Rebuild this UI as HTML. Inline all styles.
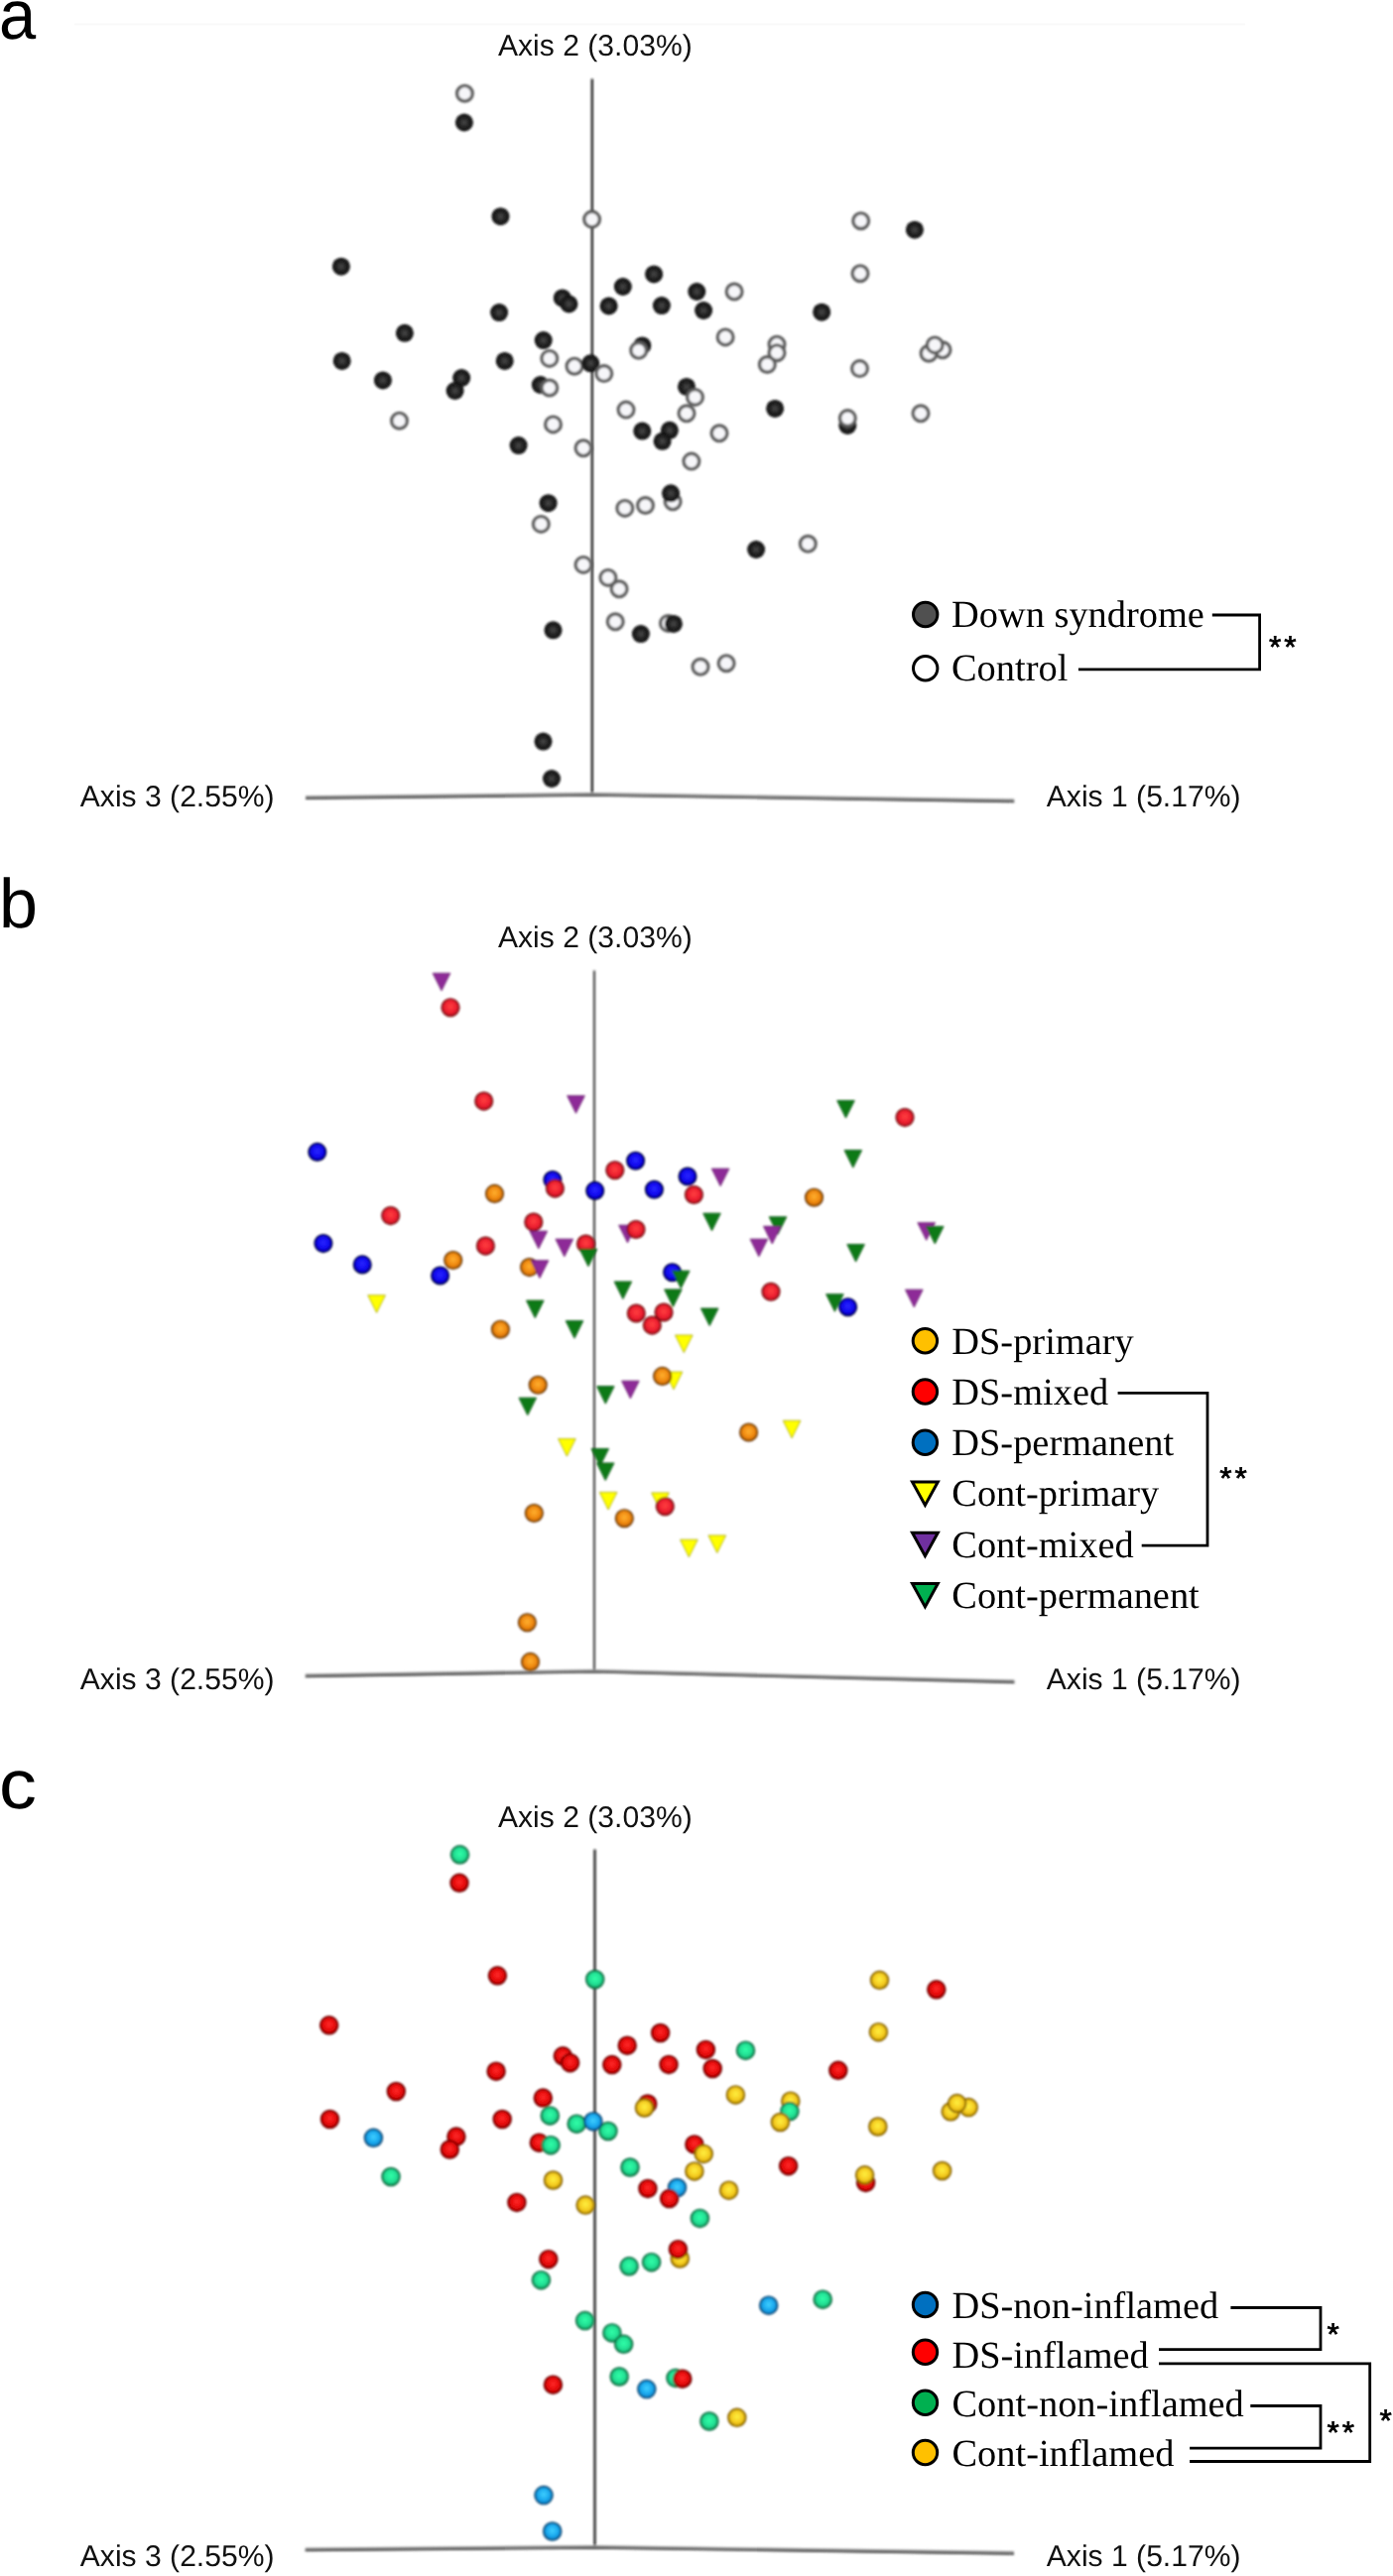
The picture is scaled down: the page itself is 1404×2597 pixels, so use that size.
<!DOCTYPE html>
<html><head><meta charset="utf-8"><style>
html,body{margin:0;padding:0;background:#fff;}
body{width:1404px;height:2597px;position:relative;overflow:hidden;}
svg text{text-rendering:geometricPrecision;}
#wrap{position:absolute;left:0;top:0;will-change:transform;}
</style></head><body><div id="wrap">
<svg width="1404" height="2597" viewBox="0 0 1404 2597" style="position:absolute;left:0;top:0">

<defs>
<radialGradient id="gBlk" cx="50%" cy="50%" r="50%"><stop offset="0" stop-color="#4a4a4a"/><stop offset="0.55" stop-color="#222"/><stop offset="1" stop-color="#111"/></radialGradient>
<radialGradient id="gOr" cx="50%" cy="45%" r="55%"><stop offset="0" stop-color="#ffb030"/><stop offset="0.6" stop-color="#f08a10"/><stop offset="1" stop-color="#c86400"/></radialGradient>
<radialGradient id="gRd" cx="50%" cy="45%" r="55%"><stop offset="0" stop-color="#ff4040"/><stop offset="0.6" stop-color="#ee2030"/><stop offset="1" stop-color="#c01020"/></radialGradient>
<radialGradient id="gBl" cx="50%" cy="45%" r="55%"><stop offset="0" stop-color="#2a28ff"/><stop offset="0.6" stop-color="#1008f0"/><stop offset="1" stop-color="#0000a8"/></radialGradient>
<radialGradient id="cRd" cx="50%" cy="45%" r="55%"><stop offset="0" stop-color="#ff2a2a"/><stop offset="0.6" stop-color="#e80a0a"/><stop offset="1" stop-color="#b00000"/></radialGradient>
<radialGradient id="cGr" cx="50%" cy="45%" r="55%"><stop offset="0" stop-color="#30ffa8"/><stop offset="0.6" stop-color="#22e094"/><stop offset="1" stop-color="#14a868"/></radialGradient>
<radialGradient id="cBl" cx="50%" cy="45%" r="55%"><stop offset="0" stop-color="#40d0ff"/><stop offset="0.6" stop-color="#1aa8ee"/><stop offset="1" stop-color="#0a80c8"/></radialGradient>
<radialGradient id="cYe" cx="50%" cy="45%" r="55%"><stop offset="0" stop-color="#fff040"/><stop offset="0.6" stop-color="#f5cc20"/><stop offset="1" stop-color="#d0a000"/></radialGradient>
<filter id="soft" x="-5%" y="-5%" width="110%" height="110%"><feGaussianBlur stdDeviation="0.8"/></filter>
<filter id="soft2" x="-5%" y="-5%" width="110%" height="110%"><feGaussianBlur stdDeviation="0.9"/></filter>
</defs>

<rect width="1404" height="2597" fill="#fff"/>
<line x1="75" y1="24.5" x2="1255" y2="24.5" stroke="#f9f9f9" stroke-width="2"/>
<text x="0" y="0" transform="translate(-1,38.5) scale(0.955,1)" style="font-family:'Liberation Sans',sans-serif;font-size:70px" fill="#000">a</text>
<g filter="url(#soft)">
<line x1="596.8" y1="79.4" x2="596.8" y2="801.1" stroke="#141414" stroke-width="2.2"/>
<polyline points="308,803.9000000000001 596.8,800.8000000000001 1022.2,807.2" fill="none" stroke="#909090" stroke-width="3.4"/>
<polyline points="308,805.1 596.8,802.0 1022.2,808.4" fill="none" stroke="#404040" stroke-width="1.6"/>
</g>
<text x="502" y="56.3" style="font-family:'Liberation Sans',sans-serif;font-size:30.1px" fill="#111">Axis 2 (3.03%)</text>
<text x="80.8" y="813.2" style="font-family:'Liberation Sans',sans-serif;font-size:30.1px" fill="#111">Axis 3 (2.55%)</text>
<text x="1054.8" y="813.2" style="font-family:'Liberation Sans',sans-serif;font-size:30.1px" fill="#111">Axis 1 (5.17%)</text>
<g filter="url(#soft)">
<circle cx="468.4" cy="94.2" r="7.8" fill="#f6f6f9" stroke="#5e5e5e" stroke-width="3.4"/>
<circle cx="467.9" cy="123.5" r="9.0" fill="url(#gBlk)"/>
<circle cx="504.5" cy="218.2" r="9.0" fill="url(#gBlk)"/>
<circle cx="596.6" cy="221.1" r="7.8" fill="#f6f6f9" stroke="#5e5e5e" stroke-width="3.4"/>
<circle cx="343.9" cy="268.7" r="9.0" fill="url(#gBlk)"/>
<circle cx="627.8" cy="289.0" r="9.0" fill="url(#gBlk)"/>
<circle cx="566.8" cy="300.4" r="9.0" fill="url(#gBlk)"/>
<circle cx="573.4" cy="306.5" r="9.0" fill="url(#gBlk)"/>
<circle cx="613.6" cy="308.5" r="9.0" fill="url(#gBlk)"/>
<circle cx="503.1" cy="315.1" r="9.0" fill="url(#gBlk)"/>
<circle cx="407.9" cy="335.8" r="9.0" fill="url(#gBlk)"/>
<circle cx="547.7" cy="343.1" r="9.0" fill="url(#gBlk)"/>
<circle cx="553.8" cy="361.4" r="7.8" fill="#f6f6f9" stroke="#5e5e5e" stroke-width="3.4"/>
<circle cx="344.7" cy="363.9" r="9.0" fill="url(#gBlk)"/>
<circle cx="508.7" cy="363.9" r="9.0" fill="url(#gBlk)"/>
<circle cx="579.0" cy="369.2" r="7.8" fill="#f6f6f9" stroke="#5e5e5e" stroke-width="3.4"/>
<circle cx="595.3" cy="366.3" r="9.0" fill="url(#gBlk)"/>
<circle cx="608.8" cy="376.6" r="7.8" fill="#f6f6f9" stroke="#5e5e5e" stroke-width="3.4"/>
<circle cx="385.9" cy="383.4" r="9.0" fill="url(#gBlk)"/>
<circle cx="465.2" cy="381.0" r="9.0" fill="url(#gBlk)"/>
<circle cx="458.6" cy="394.0" r="9.0" fill="url(#gBlk)"/>
<circle cx="544.8" cy="388.0" r="9.0" fill="url(#gBlk)"/>
<circle cx="553.8" cy="391.0" r="7.8" fill="#f6f6f9" stroke="#5e5e5e" stroke-width="3.4"/>
<circle cx="867.7" cy="222.7" r="7.8" fill="#f6f6f9" stroke="#5e5e5e" stroke-width="3.4"/>
<circle cx="921.9" cy="231.7" r="9.0" fill="url(#gBlk)"/>
<circle cx="867.0" cy="275.7" r="7.8" fill="#f6f6f9" stroke="#5e5e5e" stroke-width="3.4"/>
<circle cx="659.1" cy="276.4" r="9.0" fill="url(#gBlk)"/>
<circle cx="702.3" cy="294.0" r="9.0" fill="url(#gBlk)"/>
<circle cx="740.1" cy="294.0" r="7.8" fill="#f6f6f9" stroke="#5e5e5e" stroke-width="3.4"/>
<circle cx="666.9" cy="308.1" r="9.0" fill="url(#gBlk)"/>
<circle cx="709.1" cy="313.0" r="9.0" fill="url(#gBlk)"/>
<circle cx="828.2" cy="314.7" r="9.0" fill="url(#gBlk)"/>
<circle cx="731.1" cy="339.9" r="7.8" fill="#f6f6f9" stroke="#5e5e5e" stroke-width="3.4"/>
<circle cx="647.3" cy="348.4" r="9.0" fill="url(#gBlk)"/>
<circle cx="643.7" cy="353.3" r="7.8" fill="#f6f6f9" stroke="#5e5e5e" stroke-width="3.4"/>
<circle cx="783.0" cy="347.2" r="7.8" fill="#f6f6f9" stroke="#5e5e5e" stroke-width="3.4"/>
<circle cx="783.0" cy="355.7" r="7.8" fill="#f6f6f9" stroke="#5e5e5e" stroke-width="3.4"/>
<circle cx="773.3" cy="367.5" r="7.8" fill="#f6f6f9" stroke="#5e5e5e" stroke-width="3.4"/>
<circle cx="950.0" cy="352.8" r="7.8" fill="#f6f6f9" stroke="#5e5e5e" stroke-width="3.4"/>
<circle cx="936.1" cy="356.2" r="7.8" fill="#f6f6f9" stroke="#5e5e5e" stroke-width="3.4"/>
<circle cx="942.2" cy="347.9" r="7.8" fill="#f6f6f9" stroke="#5e5e5e" stroke-width="3.4"/>
<circle cx="866.5" cy="371.6" r="7.8" fill="#f6f6f9" stroke="#5e5e5e" stroke-width="3.4"/>
<circle cx="692.0" cy="389.9" r="9.0" fill="url(#gBlk)"/>
<circle cx="700.5" cy="400.4" r="7.8" fill="#f6f6f9" stroke="#5e5e5e" stroke-width="3.4"/>
<circle cx="631.0" cy="413.1" r="7.8" fill="#f6f6f9" stroke="#5e5e5e" stroke-width="3.4"/>
<circle cx="692.0" cy="416.8" r="7.8" fill="#f6f6f9" stroke="#5e5e5e" stroke-width="3.4"/>
<circle cx="781.1" cy="411.9" r="9.0" fill="url(#gBlk)"/>
<circle cx="854.3" cy="429.0" r="9.0" fill="url(#gBlk)"/>
<circle cx="854.3" cy="421.6" r="7.8" fill="#f6f6f9" stroke="#5e5e5e" stroke-width="3.4"/>
<circle cx="928.0" cy="416.8" r="7.8" fill="#f6f6f9" stroke="#5e5e5e" stroke-width="3.4"/>
<circle cx="647.3" cy="434.6" r="9.0" fill="url(#gBlk)"/>
<circle cx="674.9" cy="433.8" r="9.0" fill="url(#gBlk)"/>
<circle cx="667.6" cy="444.8" r="9.0" fill="url(#gBlk)"/>
<circle cx="725.0" cy="436.8" r="7.8" fill="#f6f6f9" stroke="#5e5e5e" stroke-width="3.4"/>
<circle cx="696.9" cy="465.1" r="7.8" fill="#f6f6f9" stroke="#5e5e5e" stroke-width="3.4"/>
<circle cx="678.1" cy="505.8" r="7.8" fill="#f6f6f9" stroke="#5e5e5e" stroke-width="3.4"/>
<circle cx="676.1" cy="497.3" r="9.0" fill="url(#gBlk)"/>
<circle cx="650.5" cy="509.5" r="7.8" fill="#f6f6f9" stroke="#5e5e5e" stroke-width="3.4"/>
<circle cx="629.8" cy="512.4" r="7.8" fill="#f6f6f9" stroke="#5e5e5e" stroke-width="3.4"/>
<circle cx="402.5" cy="424.2" r="7.8" fill="#f6f6f9" stroke="#5e5e5e" stroke-width="3.4"/>
<circle cx="557.5" cy="427.9" r="7.8" fill="#f6f6f9" stroke="#5e5e5e" stroke-width="3.4"/>
<circle cx="522.6" cy="449.1" r="9.0" fill="url(#gBlk)"/>
<circle cx="588.0" cy="451.8" r="7.8" fill="#f6f6f9" stroke="#5e5e5e" stroke-width="3.4"/>
<circle cx="552.6" cy="507.2" r="9.0" fill="url(#gBlk)"/>
<circle cx="545.3" cy="528.4" r="7.8" fill="#f6f6f9" stroke="#5e5e5e" stroke-width="3.4"/>
<circle cx="588.0" cy="569.4" r="7.8" fill="#f6f6f9" stroke="#5e5e5e" stroke-width="3.4"/>
<circle cx="612.9" cy="582.4" r="7.8" fill="#f6f6f9" stroke="#5e5e5e" stroke-width="3.4"/>
<circle cx="624.1" cy="593.8" r="7.8" fill="#f6f6f9" stroke="#5e5e5e" stroke-width="3.4"/>
<circle cx="620.2" cy="626.8" r="7.8" fill="#f6f6f9" stroke="#5e5e5e" stroke-width="3.4"/>
<circle cx="557.5" cy="635.3" r="9.0" fill="url(#gBlk)"/>
<circle cx="762.1" cy="554.0" r="9.0" fill="url(#gBlk)"/>
<circle cx="814.3" cy="548.3" r="7.8" fill="#f6f6f9" stroke="#5e5e5e" stroke-width="3.4"/>
<circle cx="645.9" cy="639.1" r="9.0" fill="url(#gBlk)"/>
<circle cx="673.5" cy="628.4" r="7.8" fill="#f6f6f9" stroke="#5e5e5e" stroke-width="3.4"/>
<circle cx="678.9" cy="628.9" r="9.0" fill="url(#gBlk)"/>
<circle cx="706.0" cy="672.3" r="7.8" fill="#f6f6f9" stroke="#5e5e5e" stroke-width="3.4"/>
<circle cx="732.1" cy="668.7" r="7.8" fill="#f6f6f9" stroke="#5e5e5e" stroke-width="3.4"/>
<circle cx="547.5" cy="747.6" r="9.0" fill="url(#gBlk)"/>
<circle cx="556.0" cy="785.0" r="9.0" fill="url(#gBlk)"/>
</g>
<circle cx="932.7" cy="619.5" r="12.2" fill="#505050" stroke="#000" stroke-width="3"/>
<circle cx="932.7" cy="673.8" r="12.2" fill="#fff" stroke="#000" stroke-width="3"/>
<text x="959" y="631.5" style="font-family:'Liberation Serif',serif;font-size:38.4px" fill="#000">Down syndrome</text>
<text x="959" y="685.8" style="font-family:'Liberation Serif',serif;font-size:38.4px" fill="#000">Control</text>
<polyline points="1086.9,674.8 1269.6,674.8 1269.6,620 1221.8,620" fill="none" stroke="#000" stroke-width="2.8"/>
<text x="1279" y="663" style="font-family:'Liberation Sans',sans-serif;font-size:31.5px;letter-spacing:3.0px" fill="#000" stroke="#000" stroke-width="0.7">**</text>
<text x="0" y="0" transform="translate(-1,934.6) scale(1.0,1)" style="font-family:'Liberation Sans',sans-serif;font-size:70px" fill="#000">b</text>
<g filter="url(#soft)">
<line x1="599" y1="978.4" x2="599" y2="1684.9" stroke="#484848" stroke-width="2.2"/>
<polyline points="307.8,1689.2 599,1684.6000000000001 1022.4,1695.2" fill="none" stroke="#909090" stroke-width="3.4"/>
<polyline points="307.8,1690.4 599,1685.8000000000002 1022.4,1696.4" fill="none" stroke="#404040" stroke-width="1.6"/>
</g>
<text x="502" y="955.3" style="font-family:'Liberation Sans',sans-serif;font-size:30.1px" fill="#111">Axis 2 (3.03%)</text>
<text x="80.8" y="1702.6" style="font-family:'Liberation Sans',sans-serif;font-size:30.1px" fill="#111">Axis 3 (2.55%)</text>
<text x="1054.8" y="1702.6" style="font-family:'Liberation Sans',sans-serif;font-size:30.1px" fill="#111">Axis 1 (5.17%)</text>
<g filter="url(#soft)">
<polygon points="436.2,981.2 453.8,981.2 445.0,998.8" fill="#8e2a98" stroke="#5a1060" stroke-width="0.8"/>
<circle cx="454.0" cy="1015.7" r="8.7" fill="url(#gRd)" stroke="#7a0a10" stroke-width="1.7"/>
<circle cx="487.7" cy="1110.1" r="8.7" fill="url(#gRd)" stroke="#7a0a10" stroke-width="1.7"/>
<polygon points="571.7,1104.7 589.3,1104.7 580.5,1122.3" fill="#8e2a98" stroke="#5a1060" stroke-width="0.8"/>
<circle cx="319.8" cy="1161.4" r="8.7" fill="url(#gBl)" stroke="#000040" stroke-width="1.7"/>
<circle cx="619.8" cy="1179.8" r="8.7" fill="url(#gRd)" stroke="#7a0a10" stroke-width="1.7"/>
<circle cx="556.9" cy="1189.5" r="8.7" fill="url(#gBl)" stroke="#000040" stroke-width="1.7"/>
<circle cx="559.4" cy="1198.1" r="8.7" fill="url(#gRd)" stroke="#7a0a10" stroke-width="1.7"/>
<circle cx="599.7" cy="1200.4" r="8.7" fill="url(#gBl)" stroke="#000040" stroke-width="1.7"/>
<circle cx="498.5" cy="1203.4" r="8.7" fill="url(#gOr)" stroke="#6a3400" stroke-width="1.7"/>
<circle cx="393.7" cy="1225.6" r="8.7" fill="url(#gRd)" stroke="#7a0a10" stroke-width="1.7"/>
<circle cx="537.8" cy="1232.1" r="8.7" fill="url(#gRd)" stroke="#7a0a10" stroke-width="1.7"/>
<polygon points="534.0,1241.2 551.6,1241.2 542.8,1258.8" fill="#8e2a98" stroke="#5a1060" stroke-width="0.8"/>
<polygon points="560.0,1249.2 577.6,1249.2 568.8,1266.8" fill="#8e2a98" stroke="#5a1060" stroke-width="0.8"/>
<circle cx="590.5" cy="1254.1" r="8.7" fill="url(#gRd)" stroke="#7a0a10" stroke-width="1.7"/>
<polygon points="584.2,1259.2 601.8,1259.2 593.0,1276.8" fill="#0a7a18" stroke="#054a0a" stroke-width="0.8"/>
<circle cx="325.9" cy="1253.6" r="8.7" fill="url(#gBl)" stroke="#000040" stroke-width="1.7"/>
<circle cx="489.4" cy="1256.1" r="8.7" fill="url(#gRd)" stroke="#7a0a10" stroke-width="1.7"/>
<circle cx="365.2" cy="1274.9" r="8.7" fill="url(#gBl)" stroke="#000040" stroke-width="1.7"/>
<circle cx="456.7" cy="1270.5" r="8.7" fill="url(#gOr)" stroke="#6a3400" stroke-width="1.7"/>
<circle cx="443.6" cy="1286.0" r="8.7" fill="url(#gBl)" stroke="#000040" stroke-width="1.7"/>
<circle cx="533.6" cy="1277.6" r="8.7" fill="url(#gOr)" stroke="#6a3400" stroke-width="1.7"/>
<polygon points="535.2,1270.8 552.8,1270.8 544.0,1288.4" fill="#8e2a98" stroke="#5a1060" stroke-width="0.8"/>
<polygon points="623.7,1235.2 641.3,1235.2 632.5,1252.8" fill="#8e2a98" stroke="#5a1060" stroke-width="0.8"/>
<circle cx="641.0" cy="1239.5" r="8.7" fill="url(#gRd)" stroke="#7a0a10" stroke-width="1.7"/>
<polygon points="843.7,1109.5 861.3,1109.5 852.5,1127.1" fill="#0a7a18" stroke="#054a0a" stroke-width="0.8"/>
<circle cx="912.0" cy="1126.6" r="8.7" fill="url(#gRd)" stroke="#7a0a10" stroke-width="1.7"/>
<polygon points="851.0,1159.6 868.6,1159.6 859.8,1177.2" fill="#0a7a18" stroke="#054a0a" stroke-width="0.8"/>
<circle cx="640.6" cy="1170.3" r="8.7" fill="url(#gBl)" stroke="#000040" stroke-width="1.7"/>
<circle cx="693.0" cy="1186.0" r="8.7" fill="url(#gBl)" stroke="#000040" stroke-width="1.7"/>
<polygon points="717.3,1178.2 734.9,1178.2 726.1,1195.8" fill="#8e2a98" stroke="#5a1060" stroke-width="0.8"/>
<circle cx="659.4" cy="1199.3" r="8.7" fill="url(#gBl)" stroke="#000040" stroke-width="1.7"/>
<circle cx="699.4" cy="1204.5" r="8.7" fill="url(#gRd)" stroke="#7a0a10" stroke-width="1.7"/>
<circle cx="820.5" cy="1207.2" r="8.7" fill="url(#gOr)" stroke="#6a3400" stroke-width="1.7"/>
<polygon points="708.7,1223.2 726.3,1223.2 717.5,1240.8" fill="#0a7a18" stroke="#054a0a" stroke-width="0.8"/>
<polygon points="775.2,1226.8 792.8,1226.8 784.0,1244.4" fill="#0a7a18" stroke="#054a0a" stroke-width="0.8"/>
<polygon points="769.5,1236.3 787.1,1236.3 778.3,1253.9" fill="#8e2a98" stroke="#5a1060" stroke-width="0.8"/>
<polygon points="756.1,1249.2 773.7,1249.2 764.9,1266.8" fill="#8e2a98" stroke="#5a1060" stroke-width="0.8"/>
<polygon points="924.9,1232.7 942.5,1232.7 933.7,1250.3" fill="#8e2a98" stroke="#5a1060" stroke-width="0.8"/>
<polygon points="933.5,1236.4 951.1,1236.4 942.3,1254.0" fill="#0a7a18" stroke="#054a0a" stroke-width="0.8"/>
<polygon points="853.8,1254.5 871.4,1254.5 862.6,1272.1" fill="#0a7a18" stroke="#054a0a" stroke-width="0.8"/>
<circle cx="677.6" cy="1282.8" r="8.7" fill="url(#gBl)" stroke="#000040" stroke-width="1.7"/>
<polygon points="677.5,1281.2 695.1,1281.2 686.3,1298.8" fill="#0a7a18" stroke="#054a0a" stroke-width="0.8"/>
<polygon points="619.1,1292.0 636.7,1292.0 627.9,1309.6" fill="#0a7a18" stroke="#054a0a" stroke-width="0.8"/>
<polygon points="669.6,1299.9 687.2,1299.9 678.4,1317.5" fill="#0a7a18" stroke="#054a0a" stroke-width="0.8"/>
<circle cx="777.0" cy="1302.3" r="8.7" fill="url(#gRd)" stroke="#7a0a10" stroke-width="1.7"/>
<polygon points="832.6,1304.7 850.2,1304.7 841.4,1322.3" fill="#0a7a18" stroke="#054a0a" stroke-width="0.8"/>
<circle cx="854.6" cy="1317.7" r="8.7" fill="url(#gBl)" stroke="#000040" stroke-width="1.7"/>
<polygon points="912.5,1300.2 930.1,1300.2 921.3,1317.8" fill="#8e2a98" stroke="#5a1060" stroke-width="0.8"/>
<circle cx="641.3" cy="1324.0" r="8.7" fill="url(#gRd)" stroke="#7a0a10" stroke-width="1.7"/>
<circle cx="669.0" cy="1323.0" r="8.7" fill="url(#gRd)" stroke="#7a0a10" stroke-width="1.7"/>
<circle cx="657.3" cy="1336.1" r="8.7" fill="url(#gRd)" stroke="#7a0a10" stroke-width="1.7"/>
<polygon points="706.4,1319.0 724.0,1319.0 715.2,1336.6" fill="#0a7a18" stroke="#054a0a" stroke-width="0.8"/>
<polygon points="680.5,1346.0 698.1,1346.0 689.3,1363.6" fill="#ffff00" stroke="#a0a000" stroke-width="0.8"/>
<polygon points="670.2,1383.1 687.8,1383.1 679.0,1400.7" fill="#ffff00" stroke="#a0a000" stroke-width="0.8"/>
<circle cx="667.6" cy="1387.4" r="8.7" fill="url(#gOr)" stroke="#6a3400" stroke-width="1.7"/>
<polygon points="626.6,1392.2 644.2,1392.2 635.4,1409.8" fill="#8e2a98" stroke="#5a1060" stroke-width="0.8"/>
<polygon points="601.5,1397.6 619.1,1397.6 610.3,1415.2" fill="#0a7a18" stroke="#054a0a" stroke-width="0.8"/>
<circle cx="754.6" cy="1444.0" r="8.7" fill="url(#gOr)" stroke="#6a3400" stroke-width="1.7"/>
<polygon points="789.3,1432.2 806.9,1432.2 798.1,1449.8" fill="#ffff00" stroke="#a0a000" stroke-width="0.8"/>
<polygon points="370.8,1305.8 388.4,1305.8 379.6,1323.4" fill="#ffff00" stroke="#a0a000" stroke-width="0.8"/>
<polygon points="530.5,1311.1 548.1,1311.1 539.3,1328.7" fill="#0a7a18" stroke="#054a0a" stroke-width="0.8"/>
<polygon points="570.2,1331.6 587.8,1331.6 579.0,1349.2" fill="#0a7a18" stroke="#054a0a" stroke-width="0.8"/>
<circle cx="504.4" cy="1340.2" r="8.7" fill="url(#gOr)" stroke="#6a3400" stroke-width="1.7"/>
<circle cx="542.2" cy="1396.3" r="8.7" fill="url(#gOr)" stroke="#6a3400" stroke-width="1.7"/>
<polygon points="523.0,1409.2 540.6,1409.2 531.8,1426.8" fill="#0a7a18" stroke="#054a0a" stroke-width="0.8"/>
<polygon points="562.6,1450.5 580.2,1450.5 571.4,1468.1" fill="#ffff00" stroke="#a0a000" stroke-width="0.8"/>
<polygon points="596.0,1460.5 613.6,1460.5 604.8,1478.1" fill="#0a7a18" stroke="#054a0a" stroke-width="0.8"/>
<polygon points="601.4,1474.9 619.0,1474.9 610.2,1492.5" fill="#0a7a18" stroke="#054a0a" stroke-width="0.8"/>
<polygon points="604.3,1504.4 621.9,1504.4 613.1,1522.0" fill="#ffff00" stroke="#a0a000" stroke-width="0.8"/>
<circle cx="538.3" cy="1525.5" r="8.7" fill="url(#gOr)" stroke="#6a3400" stroke-width="1.7"/>
<circle cx="629.3" cy="1530.7" r="8.7" fill="url(#gOr)" stroke="#6a3400" stroke-width="1.7"/>
<polygon points="656.7,1504.9 674.3,1504.9 665.5,1522.5" fill="#ffff00" stroke="#a0a000" stroke-width="0.8"/>
<circle cx="670.3" cy="1518.7" r="8.7" fill="url(#gRd)" stroke="#7a0a10" stroke-width="1.7"/>
<polygon points="685.6,1552.2 703.2,1552.2 694.4,1569.8" fill="#ffff00" stroke="#a0a000" stroke-width="0.8"/>
<polygon points="714.0,1547.9 731.6,1547.9 722.8,1565.5" fill="#ffff00" stroke="#a0a000" stroke-width="0.8"/>
<circle cx="531.4" cy="1635.8" r="8.7" fill="url(#gOr)" stroke="#6a3400" stroke-width="1.7"/>
<circle cx="534.5" cy="1675.4" r="8.7" fill="url(#gOr)" stroke="#6a3400" stroke-width="1.7"/>
</g>
<circle cx="932.4" cy="1351.7" r="12.2" fill="#ffc000" stroke="#000" stroke-width="3"/>
<text x="959.3" y="1364.6" style="font-family:'Liberation Serif',serif;font-size:38.4px" fill="#000">DS-primary</text>
<circle cx="932.4" cy="1403.0" r="12.2" fill="#ff0000" stroke="#000" stroke-width="3"/>
<text x="959.3" y="1415.9" style="font-family:'Liberation Serif',serif;font-size:38.4px" fill="#000">DS-mixed</text>
<circle cx="932.4" cy="1454.2" r="12.2" fill="#0070c0" stroke="#000" stroke-width="3"/>
<text x="959.3" y="1467.1" style="font-family:'Liberation Serif',serif;font-size:38.4px" fill="#000">DS-permanent</text>
<polygon points="919.5,1494.0 945.3,1494.0 932.4,1517.5" fill="#ffff00" stroke="#000" stroke-width="3" stroke-linejoin="miter"/>
<text x="959.3" y="1518.4" style="font-family:'Liberation Serif',serif;font-size:38.4px" fill="#000">Cont-primary</text>
<polygon points="919.5,1545.2 945.3,1545.2 932.4,1568.7" fill="#7030a0" stroke="#000" stroke-width="3" stroke-linejoin="miter"/>
<text x="959.3" y="1569.6" style="font-family:'Liberation Serif',serif;font-size:38.4px" fill="#000">Cont-mixed</text>
<polygon points="919.5,1596.5 945.3,1596.5 932.4,1620.0" fill="#00b050" stroke="#000" stroke-width="3" stroke-linejoin="miter"/>
<text x="959.3" y="1620.9" style="font-family:'Liberation Serif',serif;font-size:38.4px" fill="#000">Cont-permanent</text>
<polyline points="1126.6,1404.4 1217,1404.4 1217,1558.2 1150.7,1558.2" fill="none" stroke="#000" stroke-width="2.8"/>
<text x="1229.3" y="1500.7" style="font-family:'Liberation Sans',sans-serif;font-size:31.5px;letter-spacing:3.0px" fill="#000" stroke="#000" stroke-width="0.7">**</text>
<text x="0" y="0" transform="translate(-1,1823) scale(1.08,1)" style="font-family:'Liberation Sans',sans-serif;font-size:70px" fill="#000">c</text>
<g filter="url(#soft)">
<line x1="599.5" y1="1864.6" x2="599.5" y2="2568" stroke="#141414" stroke-width="2.2"/>
<polyline points="307.7,2570.2 599.5,2567.7 1022,2573.7" fill="none" stroke="#909090" stroke-width="3.4"/>
<polyline points="307.7,2571.4 599.5,2568.9 1022,2574.9" fill="none" stroke="#404040" stroke-width="1.6"/>
</g>
<text x="502" y="1841.7" style="font-family:'Liberation Sans',sans-serif;font-size:30.1px" fill="#111">Axis 2 (3.03%)</text>
<text x="80.8" y="2587.3" style="font-family:'Liberation Sans',sans-serif;font-size:30.1px" fill="#111">Axis 3 (2.55%)</text>
<text x="1054.8" y="2587.3" style="font-family:'Liberation Sans',sans-serif;font-size:30.1px" fill="#111">Axis 1 (5.17%)</text>
<g filter="url(#soft)">
<circle cx="463.5" cy="1869.8" r="8.8" fill="url(#cGr)" stroke="#0a7040" stroke-width="1.9"/>
<circle cx="463.0" cy="1898.3" r="8.8" fill="url(#cRd)" stroke="#780000" stroke-width="1.9"/>
<circle cx="501.4" cy="1991.8" r="8.8" fill="url(#cRd)" stroke="#780000" stroke-width="1.9"/>
<circle cx="599.7" cy="1995.5" r="8.8" fill="url(#cGr)" stroke="#0a7040" stroke-width="1.9"/>
<circle cx="331.7" cy="2041.8" r="8.8" fill="url(#cRd)" stroke="#780000" stroke-width="1.9"/>
<circle cx="632.2" cy="2062.2" r="8.8" fill="url(#cRd)" stroke="#780000" stroke-width="1.9"/>
<circle cx="567.3" cy="2072.8" r="8.8" fill="url(#cRd)" stroke="#780000" stroke-width="1.9"/>
<circle cx="574.6" cy="2079.7" r="8.8" fill="url(#cRd)" stroke="#780000" stroke-width="1.9"/>
<circle cx="616.8" cy="2081.6" r="8.8" fill="url(#cRd)" stroke="#780000" stroke-width="1.9"/>
<circle cx="500.1" cy="2088.2" r="8.8" fill="url(#cRd)" stroke="#780000" stroke-width="1.9"/>
<circle cx="399.3" cy="2108.5" r="8.8" fill="url(#cRd)" stroke="#780000" stroke-width="1.9"/>
<circle cx="547.3" cy="2115.1" r="8.8" fill="url(#cRd)" stroke="#780000" stroke-width="1.9"/>
<circle cx="332.5" cy="2136.5" r="8.8" fill="url(#cRd)" stroke="#780000" stroke-width="1.9"/>
<circle cx="506.2" cy="2136.5" r="8.8" fill="url(#cRd)" stroke="#780000" stroke-width="1.9"/>
<circle cx="554.3" cy="2132.9" r="8.8" fill="url(#cGr)" stroke="#0a7040" stroke-width="1.9"/>
<circle cx="581.2" cy="2141.2" r="8.8" fill="url(#cGr)" stroke="#0a7040" stroke-width="1.9"/>
<circle cx="612.9" cy="2148.5" r="8.8" fill="url(#cGr)" stroke="#0a7040" stroke-width="1.9"/>
<circle cx="597.8" cy="2138.7" r="8.8" fill="url(#cBl)" stroke="#0a4a7a" stroke-width="1.9"/>
<circle cx="376.4" cy="2155.3" r="8.8" fill="url(#cBl)" stroke="#0a4a7a" stroke-width="1.9"/>
<circle cx="459.9" cy="2154.1" r="8.8" fill="url(#cRd)" stroke="#780000" stroke-width="1.9"/>
<circle cx="453.3" cy="2167.0" r="8.8" fill="url(#cRd)" stroke="#780000" stroke-width="1.9"/>
<circle cx="543.3" cy="2160.2" r="8.8" fill="url(#cRd)" stroke="#780000" stroke-width="1.9"/>
<circle cx="555.1" cy="2162.7" r="8.8" fill="url(#cGr)" stroke="#0a7040" stroke-width="1.9"/>
<circle cx="394.0" cy="2194.5" r="8.8" fill="url(#cGr)" stroke="#0a7040" stroke-width="1.9"/>
<circle cx="557.5" cy="2198.0" r="8.8" fill="url(#cYe)" stroke="#8a6400" stroke-width="1.9"/>
<circle cx="635.0" cy="2185.0" r="8.8" fill="url(#cGr)" stroke="#0a7040" stroke-width="1.9"/>
<circle cx="886.5" cy="1996.3" r="8.8" fill="url(#cYe)" stroke="#8a6400" stroke-width="1.9"/>
<circle cx="943.8" cy="2005.8" r="8.8" fill="url(#cRd)" stroke="#780000" stroke-width="1.9"/>
<circle cx="885.4" cy="2048.7" r="8.8" fill="url(#cYe)" stroke="#8a6400" stroke-width="1.9"/>
<circle cx="665.6" cy="2049.5" r="8.8" fill="url(#cRd)" stroke="#780000" stroke-width="1.9"/>
<circle cx="711.4" cy="2066.4" r="8.8" fill="url(#cRd)" stroke="#780000" stroke-width="1.9"/>
<circle cx="751.5" cy="2067.2" r="8.8" fill="url(#cGr)" stroke="#0a7040" stroke-width="1.9"/>
<circle cx="674.0" cy="2081.4" r="8.8" fill="url(#cRd)" stroke="#780000" stroke-width="1.9"/>
<circle cx="718.2" cy="2085.5" r="8.8" fill="url(#cRd)" stroke="#780000" stroke-width="1.9"/>
<circle cx="844.8" cy="2087.3" r="8.8" fill="url(#cRd)" stroke="#780000" stroke-width="1.9"/>
<circle cx="741.4" cy="2111.9" r="8.8" fill="url(#cYe)" stroke="#8a6400" stroke-width="1.9"/>
<circle cx="652.7" cy="2121.0" r="8.8" fill="url(#cRd)" stroke="#780000" stroke-width="1.9"/>
<circle cx="649.5" cy="2125.0" r="8.8" fill="url(#cYe)" stroke="#8a6400" stroke-width="1.9"/>
<circle cx="796.8" cy="2118.2" r="8.8" fill="url(#cYe)" stroke="#8a6400" stroke-width="1.9"/>
<circle cx="795.9" cy="2128.6" r="8.8" fill="url(#cGr)" stroke="#0a7040" stroke-width="1.9"/>
<circle cx="786.4" cy="2139.5" r="8.8" fill="url(#cYe)" stroke="#8a6400" stroke-width="1.9"/>
<circle cx="976.2" cy="2124.6" r="8.8" fill="url(#cYe)" stroke="#8a6400" stroke-width="1.9"/>
<circle cx="958.2" cy="2128.8" r="8.8" fill="url(#cYe)" stroke="#8a6400" stroke-width="1.9"/>
<circle cx="964.6" cy="2120.6" r="8.8" fill="url(#cYe)" stroke="#8a6400" stroke-width="1.9"/>
<circle cx="884.8" cy="2144.0" r="8.8" fill="url(#cYe)" stroke="#8a6400" stroke-width="1.9"/>
<circle cx="699.9" cy="2161.9" r="8.8" fill="url(#cRd)" stroke="#780000" stroke-width="1.9"/>
<circle cx="709.2" cy="2171.4" r="8.8" fill="url(#cYe)" stroke="#8a6400" stroke-width="1.9"/>
<circle cx="699.9" cy="2188.9" r="8.8" fill="url(#cYe)" stroke="#8a6400" stroke-width="1.9"/>
<circle cx="794.6" cy="2183.7" r="8.8" fill="url(#cRd)" stroke="#780000" stroke-width="1.9"/>
<circle cx="872.6" cy="2200.4" r="8.8" fill="url(#cRd)" stroke="#780000" stroke-width="1.9"/>
<circle cx="871.6" cy="2192.8" r="8.8" fill="url(#cYe)" stroke="#8a6400" stroke-width="1.9"/>
<circle cx="949.6" cy="2188.5" r="8.8" fill="url(#cYe)" stroke="#8a6400" stroke-width="1.9"/>
<circle cx="652.9" cy="2206.4" r="8.8" fill="url(#cRd)" stroke="#780000" stroke-width="1.9"/>
<circle cx="682.5" cy="2205.5" r="8.8" fill="url(#cBl)" stroke="#0a4a7a" stroke-width="1.9"/>
<circle cx="674.6" cy="2216.6" r="8.8" fill="url(#cRd)" stroke="#780000" stroke-width="1.9"/>
<circle cx="734.6" cy="2208.2" r="8.8" fill="url(#cYe)" stroke="#8a6400" stroke-width="1.9"/>
<circle cx="705.4" cy="2236.4" r="8.8" fill="url(#cGr)" stroke="#0a7040" stroke-width="1.9"/>
<circle cx="685.3" cy="2277.0" r="8.8" fill="url(#cYe)" stroke="#8a6400" stroke-width="1.9"/>
<circle cx="683.4" cy="2267.7" r="8.8" fill="url(#cRd)" stroke="#780000" stroke-width="1.9"/>
<circle cx="634.1" cy="2284.8" r="8.8" fill="url(#cGr)" stroke="#0a7040" stroke-width="1.9"/>
<circle cx="656.6" cy="2280.7" r="8.8" fill="url(#cGr)" stroke="#0a7040" stroke-width="1.9"/>
<circle cx="774.7" cy="2324.2" r="8.8" fill="url(#cBl)" stroke="#0a4a7a" stroke-width="1.9"/>
<circle cx="829.2" cy="2318.2" r="8.8" fill="url(#cGr)" stroke="#0a7040" stroke-width="1.9"/>
<circle cx="520.9" cy="2220.4" r="8.8" fill="url(#cRd)" stroke="#780000" stroke-width="1.9"/>
<circle cx="590.1" cy="2223.1" r="8.8" fill="url(#cYe)" stroke="#8a6400" stroke-width="1.9"/>
<circle cx="552.8" cy="2277.7" r="8.8" fill="url(#cRd)" stroke="#780000" stroke-width="1.9"/>
<circle cx="545.4" cy="2298.7" r="8.8" fill="url(#cGr)" stroke="#0a7040" stroke-width="1.9"/>
<circle cx="589.6" cy="2339.6" r="8.8" fill="url(#cGr)" stroke="#0a7040" stroke-width="1.9"/>
<circle cx="616.9" cy="2351.9" r="8.8" fill="url(#cGr)" stroke="#0a7040" stroke-width="1.9"/>
<circle cx="628.6" cy="2363.3" r="8.8" fill="url(#cGr)" stroke="#0a7040" stroke-width="1.9"/>
<circle cx="624.2" cy="2396.0" r="8.8" fill="url(#cGr)" stroke="#0a7040" stroke-width="1.9"/>
<circle cx="651.8" cy="2408.6" r="8.8" fill="url(#cBl)" stroke="#0a4a7a" stroke-width="1.9"/>
<circle cx="681.0" cy="2397.4" r="8.8" fill="url(#cGr)" stroke="#0a7040" stroke-width="1.9"/>
<circle cx="687.8" cy="2398.2" r="8.8" fill="url(#cRd)" stroke="#780000" stroke-width="1.9"/>
<circle cx="557.4" cy="2404.2" r="8.8" fill="url(#cRd)" stroke="#780000" stroke-width="1.9"/>
<circle cx="714.9" cy="2441.0" r="8.8" fill="url(#cGr)" stroke="#0a7040" stroke-width="1.9"/>
<circle cx="742.8" cy="2437.3" r="8.8" fill="url(#cYe)" stroke="#8a6400" stroke-width="1.9"/>
<circle cx="548.0" cy="2515.6" r="8.8" fill="url(#cBl)" stroke="#0a4a7a" stroke-width="1.9"/>
<circle cx="556.7" cy="2552.0" r="8.8" fill="url(#cBl)" stroke="#0a4a7a" stroke-width="1.9"/>
</g>
<circle cx="932.5" cy="2323.5" r="12.2" fill="#0070c0" stroke="#000" stroke-width="3"/>
<text x="959.5" y="2336.9" style="font-family:'Liberation Serif',serif;font-size:38.4px" fill="#000">DS-non-inflamed</text>
<circle cx="932.5" cy="2371.2" r="12.2" fill="#ff0000" stroke="#000" stroke-width="3"/>
<text x="959.5" y="2386.5" style="font-family:'Liberation Serif',serif;font-size:38.4px" fill="#000">DS-inflamed</text>
<circle cx="932.5" cy="2422.3" r="12.2" fill="#00b050" stroke="#000" stroke-width="3"/>
<text x="959.5" y="2436.1" style="font-family:'Liberation Serif',serif;font-size:38.4px" fill="#000">Cont-non-inflamed</text>
<circle cx="932.5" cy="2472.5" r="12.2" fill="#ffc000" stroke="#000" stroke-width="3"/>
<text x="959.5" y="2485.7" style="font-family:'Liberation Serif',serif;font-size:38.4px" fill="#000">Cont-inflamed</text>
<polyline points="1240.4,2326.5 1331,2326.5 1331,2368.6 1168,2368.6" fill="none" stroke="#000" stroke-width="2.8"/>
<polyline points="1168,2382.8 1380.7,2382.8 1380.7,2481.5 1199.1,2481.5" fill="none" stroke="#000" stroke-width="2.8"/>
<polyline points="1260.3,2425.5 1331,2425.5 1331,2468.1 1199.1,2468.1" fill="none" stroke="#000" stroke-width="2.8"/>
<text x="1337.6" y="2364" style="font-family:'Liberation Sans',sans-serif;font-size:31.5px" fill="#000" stroke="#000" stroke-width="0.7">*</text>
<text x="1390.6" y="2451" style="font-family:'Liberation Sans',sans-serif;font-size:31.5px" fill="#000" stroke="#000" stroke-width="0.7">*</text>
<text x="1337.4" y="2463.2" style="font-family:'Liberation Sans',sans-serif;font-size:31.5px;letter-spacing:3.0px" fill="#000" stroke="#000" stroke-width="0.7">**</text>
</svg>
</div></body></html>
